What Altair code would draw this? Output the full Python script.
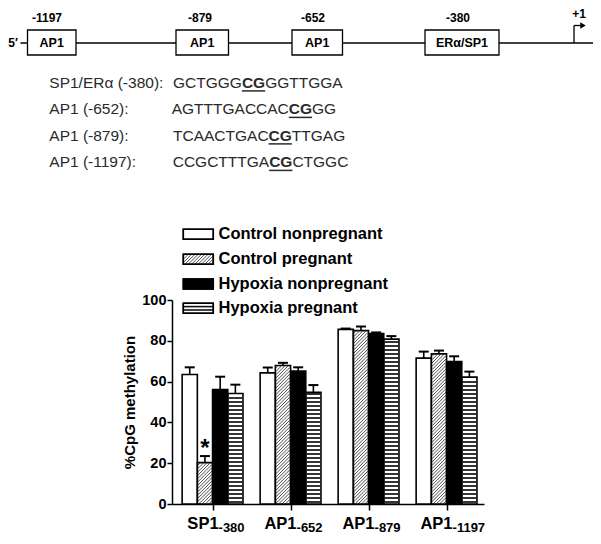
import altair as alt
import pandas as pd
import numpy as np

# ---------------- data ----------------
site_names = ["SP1", "AP1", "AP1", "AP1"]
site_subs = ["-380", "-652", "-879", "-1197"]
series = ["Control nonpregnant", "Control pregnant", "Hypoxia nonpregnant", "Hypoxia pregnant"]
ctrl_nonpreg = [63.5, 64.3, 85.6, 71.5]
ctrl_preg = [20.3, 67.9, 85.0, 73.6]
hyp_nonpreg = [56.1, 65.2, 83.5, 69.8]
hyp_preg = [54.2, 54.7, 80.8, 62.2]
err_ctrl_nonpreg = [3.5, 2.6, 0.4, 3.2]
err_ctrl_preg = [3.2, 1.3, 2.0, 1.6]
err_hyp_nonpreg = [6.3, 1.8, 0.6, 2.6]
err_hyp_preg = [4.3, 3.6, 1.5, 2.7]
values = [ctrl_nonpreg, ctrl_preg, hyp_nonpreg, hyp_preg]
errors = [err_ctrl_nonpreg, err_ctrl_preg, err_hyp_nonpreg, err_hyp_preg]
sig_marks = [(0, 1)]  # (site index, series index) marked with *
y_ticks = [0, 20, 40, 60, 80, 100]
y_title = "%CpG methylation"

promoter_sites = ["-1197", "-879", "-652", "-380"]
promoter_factors = ["AP1", "AP1", "AP1", "ERα/SP1"]
tss_label = "+1"
five_prime = "5′"
seq_labels = ["SP1/ERα (-380):", "AP1 (-652):", "AP1 (-879):", "AP1 (-1197):"]
seq_pre = ["GCTGGG", "AGTTTGACCAC", "TCAACTGAC", "CCGCTTTGA"]
seq_cpg = ["CG", "CG", "CG", "CG"]
seq_post = ["GGTTGGA", "GG", "TTGAG", "CTGGC"]

# ---------------- layout / style ----------------
FONT = "Arial, Liberation Sans, sans-serif"
OX, OY = 172, 300          # plot-area origin on the page
W, H = 312, 204
PXU = W / 4.0              # px per x unit
PYU = H / 100.0            # px per y unit
GROUP_START = 0.13
BAR_W = 0.195
CAP_HALF = 5.0
INSET = 0.8
fills = ["white", "white", "black", "white"]
XS = alt.Scale(domain=[0, 4], nice=False, zero=False)
YS = alt.Scale(domain=[0, 100], nice=False, zero=False)
centers = [i + GROUP_START + 2 * BAR_W for i in range(4)]
XA = alt.Axis(values=centers, labels=False, title=None, tickSize=6, domainColor="black", tickColor="black",
              domainWidth=1.5, tickWidth=1.5, grid=False)
YA = alt.Axis(values=y_ticks, title=y_title, labelFont=FONT, labelFontSize=14.5, labelFontWeight="bold",
              labelColor="black", labelOverlap=False, labelBound=False, labelFlush=False,
              titleFont=FONT, titleFontSize=15, titleFontWeight="bold", titleColor="black",
              tickSize=5, labelPadding=1, titlePadding=4, domainColor="black", tickColor="black",
              domainWidth=1.5, tickWidth=1.5, grid=False)

# Arial advance widths (per 1000 em)
AW = {"A": 667, "C": 722, "G": 778, "T": 611}


def tw(s, size):
    return sum(AW[c] for c in s) / 1000.0 * size


def U(x, y):
    """page pixel position -> position in the chart's data units"""
    return (x - OX) / PXU, 100.0 - (y - OY) / PYU


def diag_segments(w, h, step):
    segs = []
    c = -h + step * 0.5
    while c < w:
        xs = max(c, 0.0)
        ys = xs - c
        xe = min(w, h + c)
        ye = xe - c
        if xe - xs > 0.3:
            segs.append((xs, ys, xe, ye))
        c += step
    return segs


def X(f):
    return alt.X(f, scale=XS, axis=XA)


def Y(f):
    return alt.Y(f, scale=YS, axis=YA)


# ---------------- bar tables ----------------
rows = []
for j, s in enumerate(series):
    for i in range(4):
        x0 = i + GROUP_START + j * BAR_W
        v = values[j][i]
        rows.append(dict(series=s, j=j, site=i, x0=x0, x1=x0 + BAR_W, cx=x0 + BAR_W / 2,
                         val=v, top=v + errors[j][i], zero=0.0,
                         capl=x0 + BAR_W / 2 - CAP_HALF / PXU,
                         capr=x0 + BAR_W / 2 + CAP_HALF / PXU))
bars = pd.DataFrame(rows)

diag_rows, hl_rows = [], []
for r in rows:
    if r["j"] == 1:
        w = BAR_W * PXU - 2 * INSET
        h = r["val"] * PYU - INSET
        for xs, ys, xe, ye in diag_segments(w, h, 3.3):
            diag_rows.append(dict(hx0=r["x0"] + (xs + INSET) / PXU, hy0=ys / PYU,
                                  hx1=r["x0"] + (xe + INSET) / PXU, hy1=ye / PYU))
    if r["j"] == 3:
        h = r["val"] * PYU
        for yy in np.arange(2.0, h - 1.0, 4.0):
            hl_rows.append(dict(hx0=r["x0"] + INSET / PXU, hx1=r["x1"] - INSET / PXU, hy=yy / PYU))
diag = pd.DataFrame(diag_rows)
hl = pd.DataFrame(hl_rows)

stars = pd.DataFrame([dict(cx=bars[(bars.site == i) & (bars.j == j)].cx.iloc[0],
                           top=bars[(bars.site == i) & (bars.j == j)].top.iloc[0], t="*")
                      for i, j in sig_marks])
xlab = pd.DataFrame(dict(cx=centers, main=site_names, sub=site_subs))

bar_fill = alt.Chart(bars).mark_bar(strokeWidth=0).encode(
    x=X("x0:Q"), x2="x1:Q", y=Y("val:Q"), y2="zero:Q",
    color=alt.Color("series:N", scale=alt.Scale(domain=series, range=fills), legend=None),
)
diag_layer = alt.Chart(diag).mark_rule(color="#3a3a3a", strokeWidth=0.9).encode(
    x=X("hx0:Q"), x2="hx1:Q", y=Y("hy0:Q"), y2="hy1:Q")
hl_layer = alt.Chart(hl).mark_rule(color="#111", strokeWidth=1.7).encode(
    x=X("hx0:Q"), x2="hx1:Q", y=Y("hy:Q"))
bar_outline = alt.Chart(bars).mark_bar(fillOpacity=0, stroke="black", strokeWidth=1.6).encode(
    x=X("x0:Q"), x2="x1:Q", y=Y("val:Q"), y2="zero:Q")
err_v = alt.Chart(bars).mark_rule(color="black", strokeWidth=1.6).encode(
    x=X("cx:Q"), y=Y("val:Q"), y2="top:Q")
err_cap = alt.Chart(bars).mark_rule(color="black", strokeWidth=2).encode(
    x=X("capl:Q"), x2="capr:Q", y=Y("top:Q"))
star_layer = alt.Chart(stars).mark_text(fontSize=24, fontWeight="bold", font=FONT, baseline="alphabetic",
                                         color="black").encode(
    x=X("cx:Q"), y=Y("top:Q"), text="t:N")
xl_main = alt.Chart(xlab).mark_text(fontSize=16.5, fontWeight="bold", font=FONT, align="right",
                                     baseline="alphabetic", dx=6, color="black").encode(
    x=X("cx:Q"), y=alt.value(529 - OY), text="main:N")
xl_sub = alt.Chart(xlab).mark_text(fontSize=13, fontWeight="bold", font=FONT, align="left",
                                    baseline="alphabetic", dx=6, color="black").encode(
    x=X("cx:Q"), y=alt.value(532 - OY), text="sub:N")


# ---------------- helpers for annotation layers (positions given on the page) ----------------
def ann_text(df, size, weight="normal", align="center", baseline="middle", color="black"):
    return alt.Chart(df).mark_text(fontSize=size, fontWeight=weight, align=align, baseline=baseline,
                                   color=color, font=FONT).encode(
        x=X("ux:Q"), y=Y("uy:Q"), text="t:N")


def ann_rule(df, width=1.3, color="black"):
    return alt.Chart(df).mark_rule(strokeWidth=width, color=color).encode(
        x=X("ux:Q"), x2="ux2:Q", y=Y("uy:Q"), y2="uy2:Q")


def ann_rect(df, fill, stroke="black", width=1.3):
    return alt.Chart(df).mark_rect(fill=fill, stroke=stroke, strokeWidth=width).encode(
        x=X("ux:Q"), x2="ux2:Q", y=Y("uy:Q"), y2="uy2:Q")


def seg(x0, y0, x1, y1):
    a, b = U(x0, y0)
    c, d = U(x1, y1)
    return dict(ux=a, uy=b, ux2=c, uy2=d)


def txt(x, y, t):
    a, b = U(x, y)
    return dict(ux=a, uy=b, t=t)


# ---------------- legend ----------------
LEG_X0, LEG_X1 = 183.3, 213.3
LEG_Y = [234.3, 259.3, 284.0, 308.3]
LEG_HH = 5.0
leg_white = pd.DataFrame([seg(LEG_X0, LEG_Y[k] - LEG_HH, LEG_X1, LEG_Y[k] + LEG_HH) for k in (0, 1, 3)])
leg_black = pd.DataFrame([seg(LEG_X0, LEG_Y[2] - LEG_HH, LEG_X1, LEG_Y[2] + LEG_HH)])
leg_diag = pd.DataFrame([seg(LEG_X0 + xs, LEG_Y[1] + LEG_HH - ys, LEG_X0 + xe, LEG_Y[1] + LEG_HH - ye)
                         for xs, ys, xe, ye in diag_segments(LEG_X1 - LEG_X0, 2 * LEG_HH, 3.3)])
leg_hl = pd.DataFrame([seg(LEG_X0, LEG_Y[3] + d, LEG_X1, LEG_Y[3] + d) for d in (-1.7, 1.7)])
leg_text = pd.DataFrame([txt(218.5, LEG_Y[k], series[k]) for k in range(4)])

legend_layers = [
    ann_rect(leg_white, "white", width=1.5),
    ann_rect(leg_black, "black", width=1.5),
    ann_rule(leg_diag, width=0.9, color="#3a3a3a"),
    ann_rule(leg_hl, width=1.6, color="#111"),
    ann_rect(pd.DataFrame([seg(LEG_X0, LEG_Y[k] - LEG_HH, LEG_X1, LEG_Y[k] + LEG_HH) for k in range(4)]),
             "none", width=1.5),
    ann_text(leg_text, 16.5, "bold", align="left"),
]

# ---------------- promoter diagram ----------------
LINE_Y = 43.0
box_left = [27.5, 176.0, 292.0, 425.0]
box_right = [76.0, 228.5, 342.5, 499.0]
BOX_T, BOX_B = 30.0, 55.0
site_lab_x = [47.0, 200.0, 313.0, 458.0]
main_line = pd.DataFrame([seg(20.5, LINE_Y, 593.0, LINE_Y)])
boxes = pd.DataFrame([seg(box_left[k], BOX_T, box_right[k], BOX_B) for k in range(4)])
box_txt = pd.DataFrame([txt((box_left[k] + box_right[k]) / 2, 42.5, promoter_factors[k]) for k in range(4)])
site_txt = pd.DataFrame([txt(site_lab_x[k], 17.5, promoter_sites[k]) for k in range(4)])
tss = pd.DataFrame([seg(574.0, LINE_Y, 574.0, 25.5), seg(574.0, 25.5, 581.0, 25.5)])
tss_head = pd.DataFrame([txt(583.0, 25.5, "")])
misc_txt = pd.DataFrame([txt(579.0, 14.0, tss_label), txt(13.0, 43.0, five_prime)])

diagram_layers = [
    ann_rule(main_line, width=1.3),
    ann_rect(boxes, "white", width=1.3),
    ann_text(box_txt, 12.5, "bold"),
    ann_text(site_txt, 12, "bold"),
    ann_rule(tss, width=1.3),
    alt.Chart(tss_head).mark_point(shape="triangle-right", filled=True, size=40, color="black", opacity=1).encode(
        x=X("ux:Q"), y=Y("uy:Q")),
    ann_text(misc_txt, 12, "bold"),
]

# ---------------- sequences ----------------
SEQ_SIZE = 15.5
SEQ_COLOR = "#2a2a2a"
row_y = [82.7, 109.2, 135.7, 162.2]
lab_x = 49.3
seq_x = [173.0, 171.7, 173.0, 172.7]
lab_rows, pre_rows, cg_rows, post_rows, ul_rows = [], [], [], [], []
for k in range(4):
    lab_rows.append(txt(lab_x, row_y[k], seq_labels[k]))
    pre_rows.append(txt(seq_x[k], row_y[k], seq_pre[k]))
    xc = seq_x[k] + tw(seq_pre[k], SEQ_SIZE)
    cg_rows.append(txt(xc, row_y[k], seq_cpg[k]))
    xp = xc + tw(seq_cpg[k], SEQ_SIZE)
    post_rows.append(txt(xp, row_y[k], seq_post[k]))
    ul_rows.append(seg(xc, row_y[k] + 8.2, xp, row_y[k] + 8.2))

seq_layers = [
    ann_text(pd.DataFrame(lab_rows), SEQ_SIZE, align="left", color=SEQ_COLOR),
    ann_text(pd.DataFrame(pre_rows), SEQ_SIZE, align="left", color=SEQ_COLOR),
    ann_text(pd.DataFrame(cg_rows), SEQ_SIZE, "bold", align="left", color=SEQ_COLOR),
    ann_text(pd.DataFrame(post_rows), SEQ_SIZE, align="left", color=SEQ_COLOR),
    ann_rule(pd.DataFrame(ul_rows), width=1.5, color=SEQ_COLOR),
]

chart = alt.layer(
    bar_fill, diag_layer, hl_layer, bar_outline, err_v, err_cap, star_layer, xl_main, xl_sub,
    *legend_layers, *diagram_layers, *seq_layers,
).properties(
    width=W, height=H,
    padding={"left": OX - 8, "top": OY - 8, "right": 585 - (OX - 8) - W, "bottom": 528 - (OY - 8) - H},
    autosize=alt.AutoSizeParams(type="none"),
).configure(background="white", view=alt.ViewConfig(stroke=None))

chart.save("out.html", embed_options={"renderer": "svg", "actions": False})
